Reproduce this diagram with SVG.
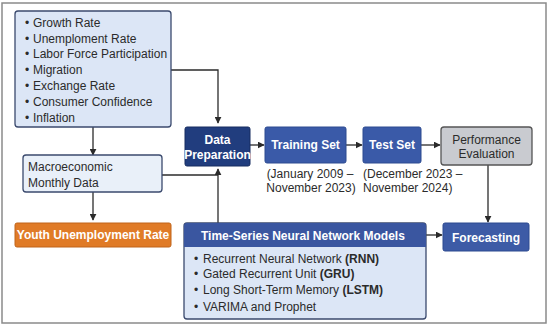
<svg xmlns="http://www.w3.org/2000/svg" width="550" height="326" viewBox="0 0 550 326">
<style>
text{font-family:"Liberation Sans",Arial,sans-serif;fill:#2b2b2b;font-size:12px}
.w{fill:#fff;font-weight:bold}
.b{font-weight:bold}
.c{text-anchor:middle}
.ln{stroke:#2b2b2b;stroke-width:1.3;fill:none}
.lb{fill:#dce6f6;stroke:#3b4a6e;stroke-width:1.3}
</style>
<defs>
<marker id="ah" viewBox="0 0 10 10" refX="9" refY="5" markerWidth="7" markerHeight="7" markerUnits="userSpaceOnUse" orient="auto"><path d="M0,0 L10,5 L0,10 z" fill="#2b2b2b"/></marker>
</defs>
<rect x="2" y="3" width="544" height="320" fill="#fff" stroke="#8a8a8a" stroke-width="1.5"/>
<g id="connectors">
<path class="ln" d="M171,70 H218 V123" marker-end="url(#ah)"/>
<path class="ln" d="M93,127 V155" marker-end="url(#ah)"/>
<path class="ln" d="M93,192 V220" marker-end="url(#ah)"/>
<path class="ln" d="M162,175 H218"/>
<path class="ln" d="M218,223 V169" marker-end="url(#ah)"/>
<path class="ln" d="M250,145 H264" marker-end="url(#ah)"/>
<path class="ln" d="M346,145 H362" marker-end="url(#ah)"/>
<path class="ln" d="M421,145 H440" marker-end="url(#ah)"/>
<path class="ln" d="M488,165 V222" marker-end="url(#ah)"/>
<path class="ln" d="M426,235 H442" marker-end="url(#ah)"/>
</g>
<g id="indicators">
<rect class="lb" x="15" y="11" width="156" height="116" rx="3"/>
<text x="25" y="27">•</text><text x="33" y="27">Growth Rate</text>
<text x="25" y="43">•</text><text x="33" y="43">Unemploment Rate</text>
<text x="25" y="58">•</text><text x="33" y="58">Labor Force Participation</text>
<text x="25" y="74">•</text><text x="33" y="74">Migration</text>
<text x="25" y="90">•</text><text x="33" y="90">Exchange Rate</text>
<text x="25" y="106">•</text><text x="33" y="106">Consumer Confidence</text>
<text x="25" y="122">•</text><text x="33" y="122">Inflation</text>
</g>
<g id="macro">
<rect x="23" y="155" width="139" height="37" rx="3" fill="#e9f0f9" stroke="#3b4a6e" stroke-width="1.3"/>
<text x="28" y="171">Macroeconomic</text>
<text x="28" y="187">Monthly Data</text>
</g>
<g id="youth">
<rect x="15" y="223" width="156" height="24" rx="2" fill="#e07b27" stroke="#c0651a" stroke-width="1"/>
<text class="w c" x="93" y="239" font-size="11.3">Youth Unemployment Rate</text>
</g>
<g id="dataprep">
<rect x="185" y="127" width="65" height="39" rx="2" fill="#213d7e" stroke="#172d60" stroke-width="1"/>
<text class="w c" x="217.5" y="144" font-size="10.8">Data</text>
<text class="w c" x="217.5" y="158.5" font-size="10.8">Preparation</text>
</g>
<g id="training">
<rect x="265" y="127" width="81" height="36" rx="2" fill="#3a5aa8" stroke="#2c4a90" stroke-width="1"/>
<text class="w c" x="305.5" y="149">Training Set</text>
<text class="c" x="310" y="178" font-size="10.6">(January 2009 –</text>
<text class="c" x="311" y="192" font-size="10.6">November 2023)</text>
</g>
<g id="test">
<rect x="363" y="127" width="58" height="36" rx="2" fill="#3a5aa8" stroke="#2c4a90" stroke-width="1"/>
<text class="w c" x="392" y="149">Test Set</text>
<text x="363" y="178" font-size="10.6">(December 2023 –</text>
<text x="363" y="192" font-size="10.6">November 2024)</text>
</g>
<g id="performance">
<rect x="441" y="127" width="91" height="38" rx="3" fill="#c9cbd0" stroke="#555" stroke-width="1.3"/>
<text class="c" x="486.5" y="144">Performance</text>
<text class="c" x="486.5" y="158">Evaluation</text>
</g>
<g id="forecasting">
<rect x="443" y="223" width="86" height="28" rx="2" fill="#3d5ba6" stroke="#2c4a90" stroke-width="1"/>
<text class="w c" x="486" y="241.5">Forecasting</text>
</g>
<g id="models">
<rect x="184" y="223" width="242" height="96" rx="3" fill="#dce6f6" stroke="#3b4a6e" stroke-width="1.3"/>
<path d="M184,247 V226 a3,3 0 0 1 3,-3 H423 a3,3 0 0 1 3,3 V247 z" fill="#3a56a0"/>
<text class="w" x="201" y="240" font-size="12.8">Time-Series Neural Network Models</text>
<text x="194" y="263">•</text><text x="203" y="263">Recurrent Neural Network <tspan class="b">(RNN)</tspan></text>
<text x="194" y="278">•</text><text x="203" y="278">Gated Recurrent Unit <tspan class="b">(GRU)</tspan></text>
<text x="194" y="294">•</text><text x="203" y="294">Long Short-Term Memory <tspan class="b">(LSTM)</tspan></text>
<text x="194" y="311">•</text><text x="203" y="311">VARIMA and Prophet</text>
</g>
</svg>
